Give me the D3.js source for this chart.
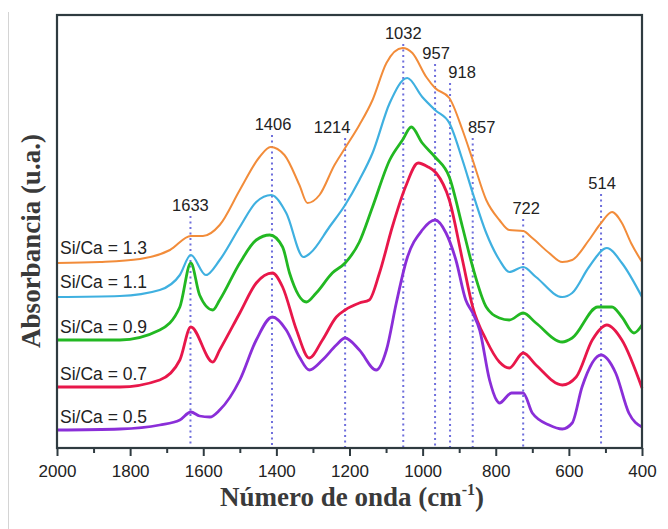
<!DOCTYPE html>
<html lang="en">
<head>
<meta charset="UTF-8">
<title>FTIR Si/Ca</title>
<script src="https://d3js.org/d3.v7.min.js"></script>
<style>
  body { margin: 0; background: #fff; }
  svg text { font-family: "Liberation Sans", Arial, sans-serif; fill: #222; }
  svg text.title { font-family: "Liberation Serif", "Times New Roman", serif; font-weight: bold; fill: #3a3a3a; }
</style>
</head>
<body>
<svg id="chart" width="668" height="529"></svg>
<script>
// spectra: [wavenumber (cm-1), absorbance (a.u., offset for stacking)]
const si13 = [[2000,1.85],[1883,1.86],[1773,1.89],[1691,1.98],[1634,2.12],[1601,2.12],[1555,2.23],[1500,2.58],[1446,2.91],[1416,3.01],[1378,2.93],[1337,2.63],[1315,2.45],[1282,2.53],[1241,2.83],[1212,3.00],[1173,3.23],[1137,3.48],[1099,3.85],[1055,4.00],[1028,3.95],[990,3.71],[966,3.60],[927,3.50],[891,3.18],[863,2.88],[826,2.48],[790,2.28],[763,2.18],[725,2.17],[700,2.10],[654,1.95],[618,1.86],[591,1.88],[545,2.08],[512,2.25],[482,2.36],[455,2.25],[430,2.05],[400,1.86]];
const si11 = [[2000,1.51],[1828,1.52],[1719,1.58],[1664,1.73],[1634,1.93],[1593,1.73],[1555,1.88],[1500,2.21],[1455,2.46],[1414,2.53],[1373,2.35],[1326,1.91],[1307,1.95],[1255,2.21],[1212,2.43],[1173,2.68],[1137,2.95],[1090,3.45],[1042,3.70],[1001,3.51],[966,3.38],[927,3.25],[891,2.88],[863,2.55],[826,2.15],[790,1.88],[763,1.76],[725,1.81],[690,1.71],[618,1.51],[591,1.55],[545,1.81],[496,2.00],[455,1.85],[400,1.51]];
const si09 = [[2000,1.08],[1828,1.08],[1719,1.18],[1664,1.41],[1634,1.85],[1610,1.53],[1574,1.38],[1555,1.48],[1500,1.85],[1455,2.08],[1418,2.13],[1383,2.01],[1364,1.75],[1318,1.46],[1291,1.55],[1247,1.75],[1212,1.85],[1173,2.06],[1137,2.41],[1090,2.88],[1055,3.08],[1031,3.21],[1001,3.05],[966,2.91],[927,2.71],[891,2.21],[863,1.81],[826,1.41],[790,1.30],[763,1.28],[725,1.35],[690,1.25],[618,1.06],[591,1.10],[521,1.41],[482,1.41],[455,1.31],[422,1.15],[400,1.23]];
const si07 = [[2000,0.61],[1828,0.61],[1719,0.68],[1664,0.88],[1634,1.21],[1574,0.86],[1555,0.98],[1500,1.35],[1455,1.65],[1411,1.75],[1383,1.61],[1345,1.18],[1310,0.90],[1274,1.08],[1236,1.31],[1212,1.38],[1173,1.45],[1146,1.48],[1118,1.75],[1083,2.21],[1047,2.61],[1012,2.85],[985,2.81],[963,2.75],[927,2.48],[891,1.88],[863,1.41],[826,1.08],[790,0.86],[763,0.80],[725,0.95],[690,0.83],[618,0.63],[580,0.71],[536,1.08],[496,1.23],[455,1.08],[400,0.60]];
const si05 = [[2000,0.18],[1828,0.19],[1719,0.23],[1664,0.28],[1634,0.36],[1610,0.32],[1582,0.31],[1555,0.38],[1500,0.68],[1455,1.08],[1411,1.31],[1373,1.18],[1337,0.91],[1310,0.78],[1274,0.88],[1236,1.03],[1212,1.10],[1173,0.98],[1127,0.78],[1099,0.98],[1072,1.45],[1044,1.88],[1001,2.18],[966,2.28],[936,2.15],[909,1.88],[882,1.48],[863,1.35],[844,1.18],[817,0.68],[798,0.48],[790,0.45],[757,0.55],[725,0.55],[700,0.35],[654,0.23],[618,0.19],[591,0.25],[564,0.61],[512,0.93],[472,0.75],[436,0.35],[400,0.21]];

const seriesData = [si13, si11, si09, si07, si05];
const seriesNames = ["Si/Ca = 1.3", "Si/Ca = 1.1", "Si/Ca = 0.9", "Si/Ca = 0.7", "Si/Ca = 0.5"];
const seriesColors = ["#f28c3a", "#3fb0e0", "#22b822", "#e8174a", "#8a2ed8"];

// band markers (where the dotted lines sit) and their printed labels
const peakPos = [1635, 1412, 1212, 1053, 966, 925, 863, 725, 512];
const peakLabels = ["1633", "1406", "1214", "1032", "957", "918", "857", "722", "514"];

const xTicks = [2000, 1800, 1600, 1400, 1200, 1000, 800, 600, 400];
const xMinorTicks = [1900, 1700, 1500, 1300, 1100, 900, 700, 500];

// layout
const plotLeft = 57, plotRight = 642, plotTop = 15, plotBottom = 448;
const peakLabelLayout = [[0, 205], [1, 124], [-13, 127], [0, 33], [1, 53], [12, 72], [9, 127], [3, 208], [1, 183]];
const legendY = [248, 282, 327, 374, 417];
const lineWidths = [2, 2.2, 2.8, 2.8, 2.8];

const svg = d3.select("#chart");

const x = d3.scaleLinear().domain([2000, 400]).range([plotLeft, plotRight]);
const y = d3.scaleLinear().domain([0, 4.33]).range([plotBottom, plotTop]);

// faint page edge on the left
svg.append("line")
  .attr("x1", 8.5).attr("x2", 8.5).attr("y1", 12).attr("y2", 529)
  .attr("stroke", "#d4d4d4").attr("stroke-width", 1);

// dotted band markers
svg.selectAll(".peak-line")
  .data(peakPos)
  .enter()
  .append("line")
  .attr("class", "peak-line")
  .attr("x1", d => x(d)).attr("x2", d => x(d))
  .attr("y1", (d, i) => peakLabelLayout[i][1] + 11)
  .attr("y2", plotBottom)
  .attr("stroke", "#6f6fdc")
  .attr("stroke-width", 2)
  .attr("stroke-dasharray", "2,3.5");

svg.selectAll(".peak-label")
  .data(peakLabels)
  .enter()
  .append("text")
  .attr("class", "peak-label")
  .attr("x", (d, i) => x(peakPos[i]) + peakLabelLayout[i][0])
  .attr("y", (d, i) => peakLabelLayout[i][1])
  .attr("dy", "0.35em")
  .attr("text-anchor", "middle")
  .style("font-size", "16.5px")
  .text(d => d);

// spectra
const line = d3.line()
  .x(d => x(d[0]))
  .y(d => y(d[1]))
  .curve(d3.curveMonotoneX);

svg.selectAll(".spectrum")
  .data(seriesData)
  .enter()
  .append("path")
  .attr("class", "spectrum")
  .attr("d", line)
  .attr("fill", "none")
  .attr("stroke", (d, i) => seriesColors[i])
  .attr("stroke-width", (d, i) => lineWidths[i])
  .attr("stroke-linejoin", "round");

// series labels
svg.selectAll(".legend")
  .data(seriesNames)
  .enter()
  .append("text")
  .attr("class", "legend")
  .attr("x", 60)
  .attr("y", (d, i) => legendY[i])
  .attr("dy", "0.35em")
  .style("font-size", "17.5px")
  .text(d => d);

// x axis, major + minor ticks
const axisG = svg.append("g").attr("transform", `translate(0,${plotBottom})`);
axisG.call(d3.axisBottom(x).tickValues(xTicks).tickSize(8).tickFormat(d3.format("d")));
axisG.append("g").call(d3.axisBottom(x).tickValues(xMinorTicks).tickSize(5).tickFormat(""));
axisG.selectAll(".domain").remove();
axisG.selectAll("line").attr("stroke", "#2f3b40").attr("stroke-width", 2);
axisG.selectAll("text")
  .attr("y", 17)
  .style("font-size", "17px")
  .style("font-family", "Liberation Sans, Arial, sans-serif")
  .attr("fill", "#222");

// frame
svg.append("rect")
  .attr("x", plotLeft).attr("y", plotTop)
  .attr("width", plotRight - plotLeft).attr("height", plotBottom - plotTop)
  .attr("fill", "none")
  .attr("stroke", "#2f3b40")
  .attr("stroke-width", 2.2);

// axis titles
const xTitle = svg.append("text")
  .attr("class", "title")
  .attr("x", 352).attr("y", 506)
  .attr("text-anchor", "middle")
  .style("font-size", "27px");
xTitle.append("tspan").text("Número de onda (cm");
xTitle.append("tspan").attr("dy", -11).style("font-size", "16px").text("-1");
xTitle.append("tspan").attr("dy", 11).text(")");

svg.append("text")
  .attr("class", "title")
  .attr("transform", "translate(31,241) rotate(-90)")
  .attr("text-anchor", "middle")
  .attr("dy", "0.35em")
  .style("font-size", "27px")
  .text("Absorbancia (u.a.)");
</script>
</body>
</html>
